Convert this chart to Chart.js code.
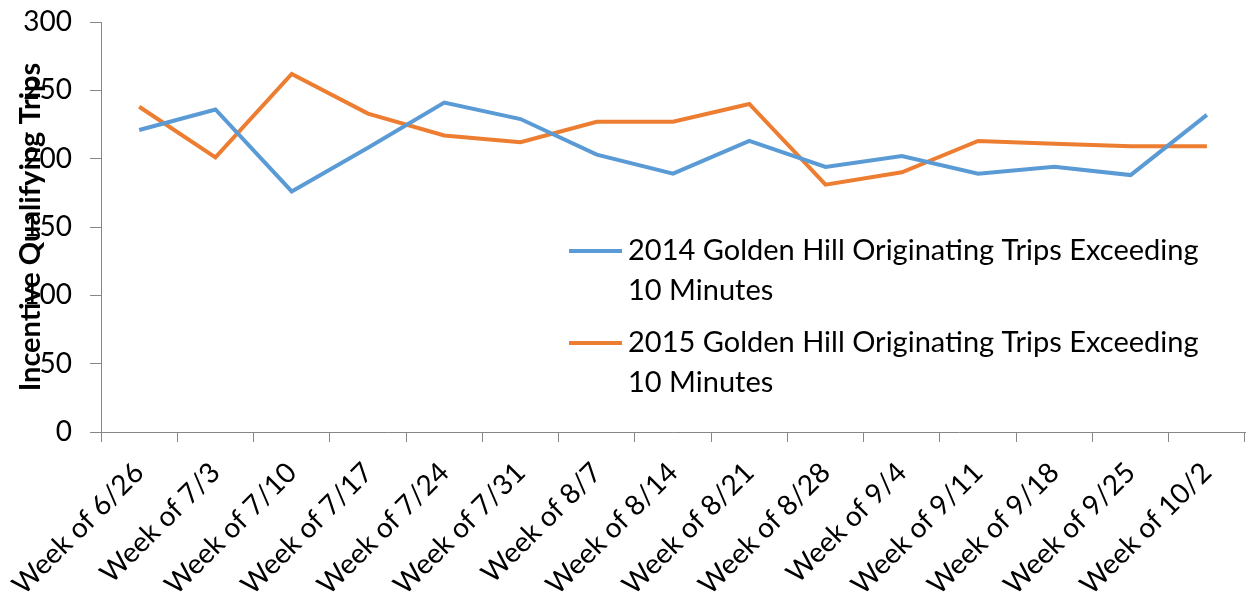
<!DOCTYPE html>
<html>
<head>
<meta charset="utf-8">
<script src="https://cdn.jsdelivr.net/npm/chart.js@4.4.1/dist/chart.umd.min.js"></script>
<style>
  html, body { margin: 0; padding: 0; background: #fff; }
  #wrap { width: 1247px; height: 599px; position: relative; }
</style>
</head>
<body>
<div id="wrap"><canvas id="trips"></canvas></div>
<script>
// weekly counts of incentive-qualifying trips, Golden Hill
var weeks = ["Week of 6/26", "Week of 7/3", "Week of 7/10", "Week of 7/17", "Week of 7/24",
             "Week of 7/31", "Week of 8/7", "Week of 8/14", "Week of 8/21", "Week of 8/28",
             "Week of 9/4", "Week of 9/11", "Week of 9/18", "Week of 9/25", "Week of 10/2"];
var trips2014 = [221, 236, 176, 208, 241, 229, 203, 189, 213, 194, 202, 189, 194, 188, 232];
var trips2015 = [238, 201, 262, 233, 217, 212, 227, 227, 240, 181, 190, 213, 211, 209, 209];
var seriesNames = ["2014 Golden Hill Originating Trips Exceeding 10 Minutes",
                   "2015 Golden Hill Originating Trips Exceeding 10 Minutes"];
var yMin = 0, yMax = 300, yStep = 50;

var FONT = "Lato";
var AXIS_GREY = "#868686";

function wrapText(ctx, text, maxWidth) {
  var words = text.split(" ");
  var lines = [];
  var cur = "";
  words.forEach(function (w) {
    var test = cur ? cur + " " + w : w;
    if (cur && ctx.measureText(test).width > maxWidth) {
      lines.push(cur);
      cur = w;
    } else {
      cur = test;
    }
  });
  if (cur) lines.push(cur);
  return lines;
}

// legend drawn inside the plot, with wrapped labels
var innerLegend = {
  id: "innerLegend",
  afterDraw: function (chart, args, opts) {
    var ctx = chart.ctx;
    ctx.save();
    ctx.font = opts.fontSize + "px " + FONT;
    ctx.textBaseline = "middle";
    ctx.textAlign = "left";
    var y = opts.top;
    chart.data.datasets.forEach(function (ds) {
      var lines = wrapText(ctx, ds.label, opts.maxWidth);
      ctx.strokeStyle = ds.borderColor;
      ctx.lineWidth = ds.borderWidth;
      ctx.beginPath();
      ctx.moveTo(opts.left, y);
      ctx.lineTo(opts.left + opts.lineLength, y);
      ctx.stroke();
      ctx.fillStyle = "#000";
      lines.forEach(function (line, i) {
        ctx.fillText(line, opts.left + opts.lineLength + opts.gap, y + i * opts.lineHeight);
      });
      y += lines.length * opts.lineHeight + opts.spacing;
    });
    ctx.restore();
  }
};

new Chart(document.getElementById("trips"), {
  type: "line",
  data: {
    labels: weeks,
    datasets: [
      {
        label: seriesNames[0],
        data: trips2014,
        borderColor: "#5B9BD5",
        backgroundColor: "#5B9BD5",
        borderWidth: 4,
        pointRadius: 0,
        tension: 0
      },
      {
        label: seriesNames[1],
        data: trips2015,
        borderColor: "#ED7D31",
        backgroundColor: "#ED7D31",
        borderWidth: 4,
        pointRadius: 0,
        tension: 0
      }
    ]
  },
  options: {
    responsive: true,
    maintainAspectRatio: false,
    animation: false,
    devicePixelRatio: 1,
    layout: { padding: { top: 22, right: 2, left: 0, bottom: 0 } },
    plugins: {
      legend: { display: false },
      tooltip: { enabled: false },
      innerLegend: {
        left: 569,
        top: 251,
        lineLength: 53,
        gap: 6,
        fontSize: 29,
        lineHeight: 39.5,
        spacing: 13,
        maxWidth: 590
      }
    },
    scales: {
      x: {
        offset: true,
        grid: {
          offset: true,
          drawOnChartArea: false,
          drawTicks: true,
          tickLength: 10,
          color: AXIS_GREY
        },
        border: { color: AXIS_GREY, width: 1 },
        ticks: {
          autoSkip: false,
          minRotation: 45,
          maxRotation: 45,
          padding: 14,
          color: "#000",
          font: { family: FONT, size: 28 }
        },
        afterFit: function (scale) { scale.height = 167; }
      },
      y: {
        min: yMin,
        max: yMax,
        grid: {
          drawOnChartArea: false,
          drawTicks: true,
          tickLength: 11,
          color: AXIS_GREY
        },
        border: { color: AXIS_GREY, width: 1 },
        ticks: {
          stepSize: yStep,
          padding: 18,
          color: "#000",
          font: { family: FONT, size: 28 }
        },
        title: {
          display: true,
          text: "Incentive Qualifying Trips",
          color: "#000",
          padding: { top: 13, bottom: 0 },
          font: { family: FONT, size: 29, weight: "bold" }
        },
        afterFit: function (scale) {
          scale.width = 101;
          // let the top label overhang instead of pushing the plot down
          scale.paddingTop = 0;
          scale.paddingBottom = 0;
        }
      }
    }
  },
  plugins: [innerLegend]
});
</script>
</body>
</html>
